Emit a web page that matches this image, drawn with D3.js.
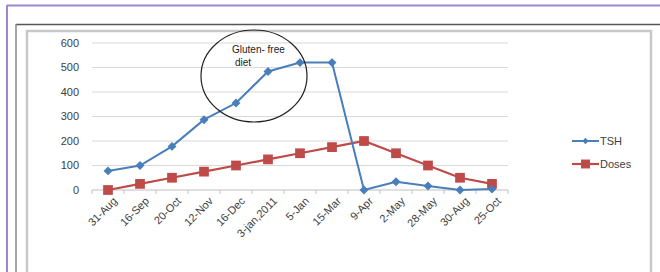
<!DOCTYPE html>
<html>
<head>
<meta charset="utf-8">
<script src="https://cdn.jsdelivr.net/npm/d3@7"></script>
<style>
  body { margin: 0; background: #fff; }
  svg { display: block; }
  text { font-family: "Liberation Sans", Arial, sans-serif; }
</style>
</head>
<body>
<div id="wrapper"></div>
<script>
const dates = ["31-Aug", "16-Sep", "20-Oct", "12-Nov", "16-Dec", "3-jan,2011", "5-Jan", "15-Mar", "9-Apr", "2-May", "28-May", "30-Aug", "25-Oct"]
const tsh = [78, 100, 178, 287, 355, 484, 520, 520, 0, 34, 16, 0, 4]
const doses = [0, 25, 50, 75, 100, 125, 150, 175, 200, 150, 100, 50, 25]
const yTicks = [0, 100, 200, 300, 400, 500, 600]

const dimensions = {
  width: 660,
  height: 272,
  margin: { top: 43, right: 152, bottom: 82, left: 92 }
}
dimensions.boundedWidth = dimensions.width - dimensions.margin.left - dimensions.margin.right
dimensions.boundedHeight = dimensions.height - dimensions.margin.top - dimensions.margin.bottom

const wrapper = d3.select("#wrapper")
  .append("svg")
  .attr("width", dimensions.width)
  .attr("height", dimensions.height)

// frames (page border + chart box)
wrapper.append("line").attr("x1", 7).attr("x2", 660).attr("y1", 5.5).attr("y2", 5.5)
  .attr("stroke", "#9d86d2").attr("stroke-width", 2)
wrapper.append("line").attr("x1", 7).attr("x2", 7).attr("y1", 5).attr("y2", 272)
  .attr("stroke", "#9d86d2").attr("stroke-width", 2)
wrapper.append("line").attr("x1", 16).attr("x2", 660).attr("y1", 24.5).attr("y2", 24.5)
  .attr("stroke", "#555").attr("stroke-width", 1.5)
wrapper.append("line").attr("x1", 16).attr("x2", 16).attr("y1", 24).attr("y2", 272)
  .attr("stroke", "#888").attr("stroke-width", 1.5)
wrapper.append("path").attr("d", "M27,272V31H651V272")
  .attr("fill", "none").attr("stroke", "#c8c8c8").attr("stroke-width", 2.5)

const bounds = wrapper.append("g")
  .attr("transform", `translate(${dimensions.margin.left},${dimensions.margin.top})`)

const xScale = d3.scaleBand().domain(dates).range([0, dimensions.boundedWidth])
const yScale = d3.scaleLinear().domain([0, 600]).range([dimensions.boundedHeight, 0])
const xPos = d => xScale(d) + xScale.bandwidth() / 2

// gridlines
bounds.selectAll(".grid").data(yTicks.filter(t => t > 0)).join("line")
  .attr("x1", 0).attr("x2", dimensions.boundedWidth)
  .attr("y1", d => yScale(d)).attr("y2", d => yScale(d))
  .attr("stroke", "#d9d9d9").attr("stroke-width", 1)

// y axis labels
bounds.selectAll(".ylab").data(yTicks).join("text")
  .attr("x", -13).attr("y", d => yScale(d)).attr("dy", "0.35em")
  .attr("text-anchor", "end").attr("font-size", 11).attr("fill", "#404040")
  .text(d => d)

// x axis
bounds.append("line").attr("x1", 0).attr("x2", dimensions.boundedWidth)
  .attr("y1", dimensions.boundedHeight).attr("y2", dimensions.boundedHeight)
  .attr("stroke", "#bfbfbf")
bounds.selectAll(".xtick").data(d3.range(dates.length + 1)).join("line")
  .attr("x1", i => i * xScale.step()).attr("x2", i => i * xScale.step())
  .attr("y1", dimensions.boundedHeight).attr("y2", dimensions.boundedHeight + 4)
  .attr("stroke", "#bfbfbf")
bounds.selectAll(".xlab").data(dates).join("text")
  .attr("transform", d => `translate(${xPos(d) + 7},${dimensions.boundedHeight + 9}) rotate(-45)`)
  .attr("text-anchor", "end").attr("dy", "0.35em")
  .attr("font-size", 11).attr("fill", "#404040")
  .text(d => d)

const line = d3.line().x(d => xPos(d[0])).y(d => yScale(d[1]))

const series = [
  { name: "TSH", values: tsh, color: "#4a7ebb", symbol: d3.symbolSquare, size: 40, rotate: 45, width: 2 },
  { name: "Doses", values: doses, color: "#be4b48", symbol: d3.symbolSquare, size: 95, rotate: 0, width: 2.2 }
]

// draw doses below TSH
;[series[1], series[0]].forEach(s => {
  const pts = dates.map((d, i) => [d, s.values[i]])
  bounds.append("path").attr("d", line(pts))
    .attr("fill", "none").attr("stroke", s.color).attr("stroke-width", s.width)
  bounds.selectAll(null).data(pts).join("path")
    .attr("d", d3.symbol().type(s.symbol).size(s.size))
    .attr("transform", d => `translate(${xPos(d[0])},${yScale(d[1])}) rotate(${s.rotate})`)
    .attr("fill", s.color)
})

// annotation circle
wrapper.append("ellipse").attr("cx", 254).attr("cy", 76).attr("rx", 53).attr("ry", 46)
  .attr("fill", "none").attr("stroke", "#222").attr("stroke-width", 1.2)
wrapper.append("text").attr("x", 232).attr("y", 53).attr("font-size", 10).attr("fill", "#222")
  .text("Gluten- free")
wrapper.append("text").attr("x", 235).attr("y", 66).attr("font-size", 10).attr("fill", "#222")
  .text("diet")

// legend
const legend = wrapper.append("g").attr("transform", "translate(572,141)")
series.forEach((s, i) => {
  const g = legend.append("g").attr("transform", `translate(0,${i * 23})`)
  g.append("line").attr("x1", 0).attr("x2", 27).attr("stroke", s.color).attr("stroke-width", s.width)
  g.append("path").attr("d", d3.symbol().type(s.symbol).size(i === 0 ? 20 : 80))
    .attr("transform", `translate(13.5,0) rotate(${s.rotate})`)
    .attr("fill", s.color)
  g.append("text").attr("x", 28).attr("dy", "0.35em").attr("font-size", 11).attr("fill", "#404040")
    .text(s.name)
})
</script>
</body>
</html>
